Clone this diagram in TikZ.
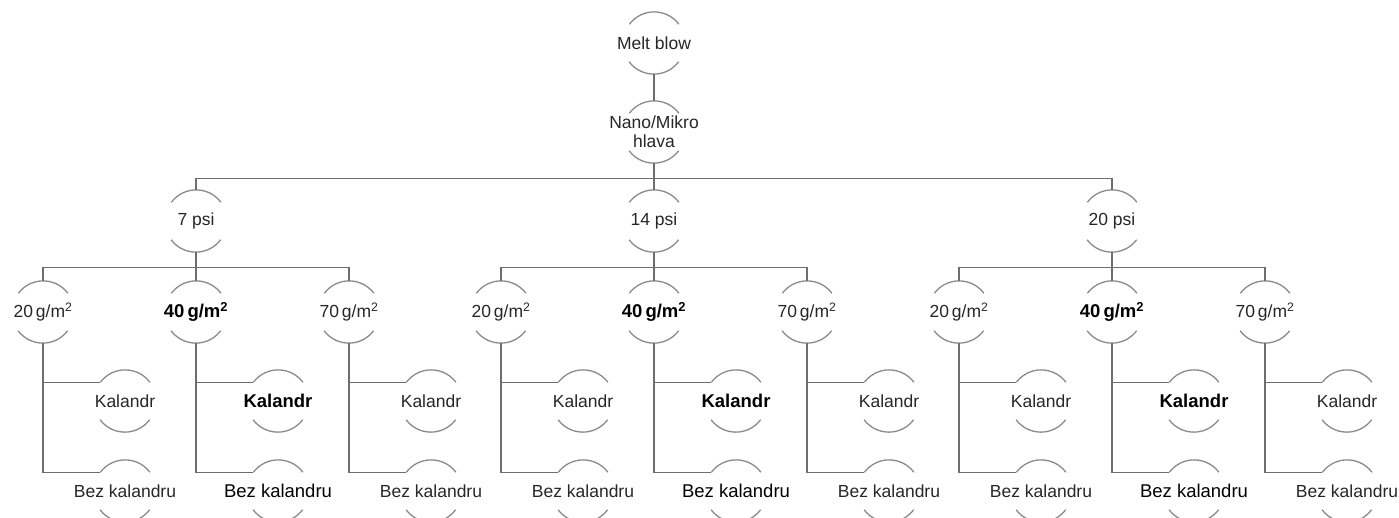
\documentclass[tikz,border=0pt]{standalone}
\usepackage{fontspec}
\setmainfont{Liberation Sans}
\definecolor{arcgray}{HTML}{8A8A8A}
\definecolor{linegray}{HTML}{6E6E6E}
\definecolor{txt}{HTML}{262626}
\tikzset{
  bn/.style={circle, minimum size=62pt, inner sep=0pt, draw=none, text=txt,
             font=\fontsize{17.5}{19}\selectfont},
  bnbig/.style={bn, text=black, font=\fontsize{18.5}{20}\selectfont},
  arcline/.style={draw=arcgray, line width=1.3pt},
  conn/.style={draw=linegray, line width=1.3pt},
}
% \bnode{name}{x}{y}{style}{text}
\newcommand{\bnode}[5]{%
  \node[#4] (#1) at (#2,#3) {\makebox[0pt][c]{#5}};
  \draw[arcline] (#1.37) arc[start angle=37, end angle=143, radius=31pt];
  \draw[arcline] (#1.217) arc[start angle=217, end angle=323, radius=31pt];
}
\newcommand{\gsm}{g/m\textsuperscript{2}}
\begin{document}
\begin{tikzpicture}[x=1pt,y=-1pt]
\useasboundingbox (0,0) rectangle (1399,517);
\clip (0,0) rectangle (1399,517);
\bnode{mb}{654}{43}{bn}{Melt blow}
\bnode{nano}{654}{132}{bn}{\shortstack{Nano/Mikro\\[3pt]hlava}}
\draw[conn] (mb.south) -- (nano.north);
\foreach \g/\px/\lab in {a/196/7 psi, b/654/14 psi, c/1112/20 psi}{
  \bnode{p\g}{\px}{221}{bn}{\lab}
  \draw[conn] (nano.south) -- ++(0,15) -| (p\g.north);
  \foreach \i/\dx/\w in {1/-153/20, 2/0/40, 3/153/70}{
    \pgfmathsetmacro{\cx}{\px+\dx}
    \ifnum\i=2
      \bnode{c\g\i}{\cx}{312}{bnbig}{\textbf{\w\,\gsm}}
      \bnode{k\g\i}{\cx+82}{401}{bnbig}{\textbf{Kalandr}}
      \bnode{z\g\i}{\cx+82}{491}{bnbig}{Bez kalandru}
    \else
      \bnode{c\g\i}{\cx}{312}{bn}{\w\,\gsm}
      \bnode{k\g\i}{\cx+82}{401}{bn}{Kalandr}
      \bnode{z\g\i}{\cx+82}{491}{bn}{Bez kalandru}
    \fi
    \draw[conn] (p\g.south) -- ++(0,15) -| (c\g\i.north);
    \draw[conn] (c\g\i.south) |- (k\g\i.143);
    \draw[conn] (c\g\i.south) |- (z\g\i.143);
  }
}
\end{tikzpicture}
\end{document}
